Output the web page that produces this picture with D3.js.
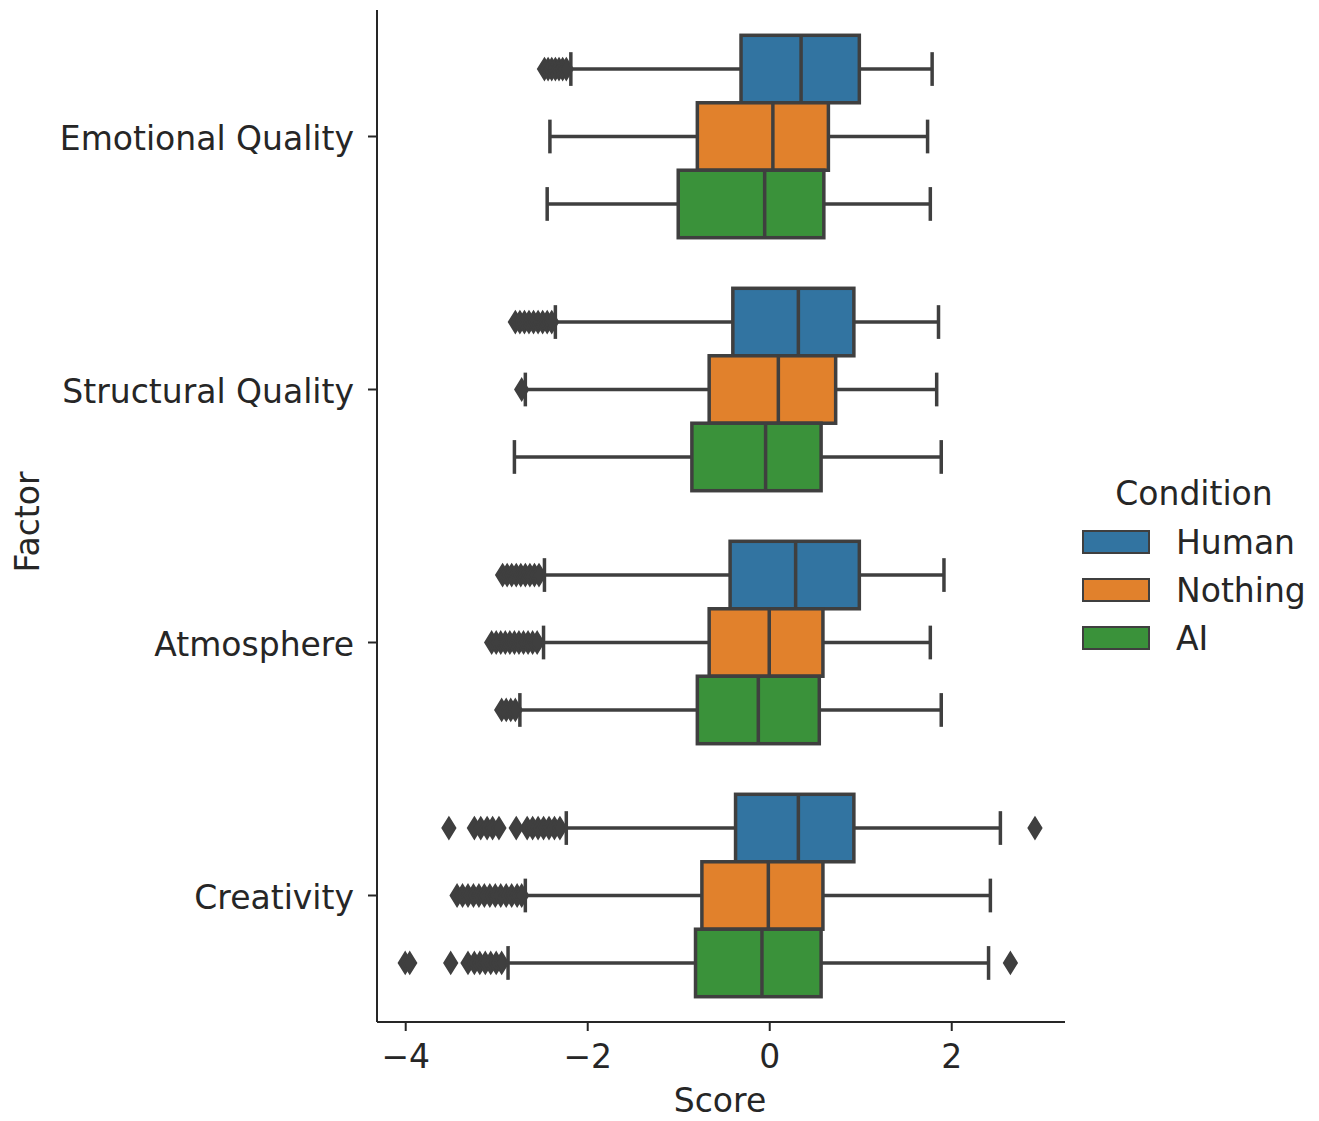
<!DOCTYPE html>
<html>
<head>
<meta charset="utf-8">
<script src="https://cdn.jsdelivr.net/npm/d3@7"></script>
<style>
  html, body { margin: 0; padding: 0; background: #fff; }
  text { font-family: "DejaVu Sans", sans-serif; fill: #262626; }
</style>
</head>
<body>
<svg id="chart" width="1319" height="1121"></svg>
<script>
// ---- Data ----
const factors = ["Emotional Quality", "Structural Quality", "Atmosphere", "Creativity"];
const conditions = ["Human", "Nothing", "AI"];
const colors = ["#3274a1", "#e1812c", "#3a923a"];
const xTicks = [-4, -2, 0, 2];

// per factor: [Human, Nothing, AI]
const whiskerLow = [
  [-2.18, -2.41, -2.44],
  [-2.35, -2.68, -2.80],
  [-2.47, -2.48, -2.74],
  [-2.23, -2.68, -2.87]
];
const q1 = [
  [-0.31, -0.79, -1.00],
  [-0.40, -0.66, -0.85],
  [-0.43, -0.66, -0.79],
  [-0.37, -0.74, -0.81]
];
const median = [
  [0.35, 0.04, -0.05],
  [0.32, 0.10, -0.04],
  [0.29, 0.00, -0.12],
  [0.32, -0.01, -0.08]
];
const q3 = [
  [0.99, 0.65, 0.60],
  [0.93, 0.73, 0.57],
  [0.99, 0.59, 0.55],
  [0.93, 0.59, 0.57]
];
const whiskerHigh = [
  [1.79, 1.74, 1.77],
  [1.86, 1.84, 1.89],
  [1.92, 1.77, 1.89],
  [2.54, 2.43, 2.41]
];
const outliers = [
  [
    [-2.47, -2.43, -2.39, -2.35, -2.31, -2.27, -2.23],
    [],
    []
  ],
  [
    [-2.79, -2.74, -2.69, -2.64, -2.59, -2.54, -2.49, -2.44, -2.39],
    [-2.72],
    []
  ],
  [
    [-2.93, -2.88, -2.83, -2.78, -2.73, -2.68, -2.63, -2.58, -2.53],
    [-3.05, -3.00, -2.95, -2.90, -2.85, -2.80, -2.75, -2.70, -2.65, -2.60, -2.55],
    [-2.94, -2.89, -2.84, -2.79]
  ],
  [
    [-3.52, -3.24, -3.17, -3.10, -3.04, -2.97, -2.78, -2.66, -2.60, -2.54, -2.48, -2.42, -2.36, -2.30, 2.92],
    [-3.43, -3.37, -3.31, -3.25, -3.19, -3.13, -3.07, -3.01, -2.95, -2.89, -2.83, -2.77, -2.72],
    [-4.00, -3.95, -3.50, -3.31, -3.24, -3.18, -3.12, -3.06, -3.00, -2.94, 2.65]
  ]
];

// ---- Layout ----
const svg = d3.select("#chart");
const mLeft = 377, mRight = 1065, mTop = 10, mBottom = 1022;
const ink = "#3f3f3f";
const fs = 33;

const x = d3.scaleLinear().domain([-4.31, 3.25]).range([mLeft, mRight]);
const y = d3.scaleBand().domain(factors).range([mTop, mBottom]).padding(0);
const boxW = y.bandwidth() * 0.8 / conditions.length;
const dodge = d3.scaleBand().domain(conditions)
  .range([-y.bandwidth() * 0.4, y.bandwidth() * 0.4]).padding(0);

const g = svg.append("g");

factors.forEach((f, fi) => {
  conditions.forEach((c, ci) => {
    const cy = y(f) + y.bandwidth() / 2 + dodge(c) + dodge.bandwidth() / 2;
    const bw = boxW;
    const grp = g.append("g");
    grp.append("line")
      .attr("x1", x(whiskerLow[fi][ci])).attr("x2", x(q1[fi][ci]))
      .attr("y1", cy).attr("y2", cy)
      .attr("stroke", ink).attr("stroke-width", 3.5);
    grp.append("line")
      .attr("x1", x(q3[fi][ci])).attr("x2", x(whiskerHigh[fi][ci]))
      .attr("y1", cy).attr("y2", cy)
      .attr("stroke", ink).attr("stroke-width", 3.5);
    [whiskerLow[fi][ci], whiskerHigh[fi][ci]].forEach(v => {
      grp.append("line")
        .attr("x1", x(v)).attr("x2", x(v))
        .attr("y1", cy - bw / 4).attr("y2", cy + bw / 4)
        .attr("stroke", ink).attr("stroke-width", 3.5);
    });
    grp.append("rect")
      .attr("x", x(q1[fi][ci])).attr("width", x(q3[fi][ci]) - x(q1[fi][ci]))
      .attr("y", cy - bw / 2).attr("height", bw)
      .attr("fill", colors[ci]).attr("stroke", ink).attr("stroke-width", 3.5);
    grp.append("line")
      .attr("x1", x(median[fi][ci])).attr("x2", x(median[fi][ci]))
      .attr("y1", cy - bw / 2).attr("y2", cy + bw / 2)
      .attr("stroke", ink).attr("stroke-width", 3.5);
    grp.selectAll("path.flier").data(outliers[fi][ci]).enter().append("path")
      .attr("class", "flier")
      .attr("d", v => {
        const px = x(v), hw = 6.5, hh = 10.5;
        return `M${px},${cy - hh}L${px + hw},${cy}L${px},${cy + hh}L${px - hw},${cy}Z`;
      })
      .attr("fill", ink).attr("stroke", ink).attr("stroke-width", 2);
  });
});

// ---- Axes ----
const xAxis = svg.append("g").attr("transform", `translate(0,${mBottom})`)
  .call(d3.axisBottom(x).tickValues(xTicks).tickSize(9).tickPadding(14)
    .tickFormat(d => d < 0 ? "\u2212" + Math.abs(d) : d));
xAxis.select(".domain").attr("d", `M${mLeft},0H${mRight}`).attr("stroke", "#262626").attr("stroke-width", 2);
xAxis.selectAll(".tick line").attr("stroke", "#262626").attr("stroke-width", 2);
xAxis.selectAll(".tick text").attr("font-size", fs).attr("font-family", "DejaVu Sans").attr("fill", "#262626");

const yAxis = svg.append("g").attr("transform", `translate(${mLeft},0)`)
  .call(d3.axisLeft(y).tickSize(9).tickPadding(14));
yAxis.select(".domain").attr("d", `M0,${mTop}V${mBottom}`).attr("stroke", "#262626").attr("stroke-width", 2);
yAxis.selectAll(".tick line").attr("stroke", "#262626").attr("stroke-width", 2);
yAxis.selectAll(".tick text").attr("font-size", fs).attr("font-family", "DejaVu Sans")
  .attr("fill", "#262626").attr("dy", "0.42em");

svg.append("text").attr("x", (mLeft + mRight) / 2 - 1).attr("y", 1112)
  .attr("text-anchor", "middle").attr("font-size", fs).text("Score");
svg.append("text")
  .attr("transform", `translate(39,${(mTop + mBottom) / 2 + 6}) rotate(-90)`)
  .attr("text-anchor", "middle").attr("font-size", fs).text("Factor");

// ---- Legend ----
const legend = svg.append("g");
legend.append("text").attr("x", 1194).attr("y", 505)
  .attr("text-anchor", "middle").attr("font-size", fs).text("Condition");
conditions.forEach((c, i) => {
  const ly = 542 + i * 48;
  legend.append("rect").attr("x", 1083).attr("y", ly - 11).attr("width", 66).attr("height", 22)
    .attr("fill", colors[i]).attr("stroke", ink).attr("stroke-width", 2);
  legend.append("text").attr("x", 1176).attr("y", ly + 12).attr("font-size", fs).text(c);
});
</script>
</body>
</html>
